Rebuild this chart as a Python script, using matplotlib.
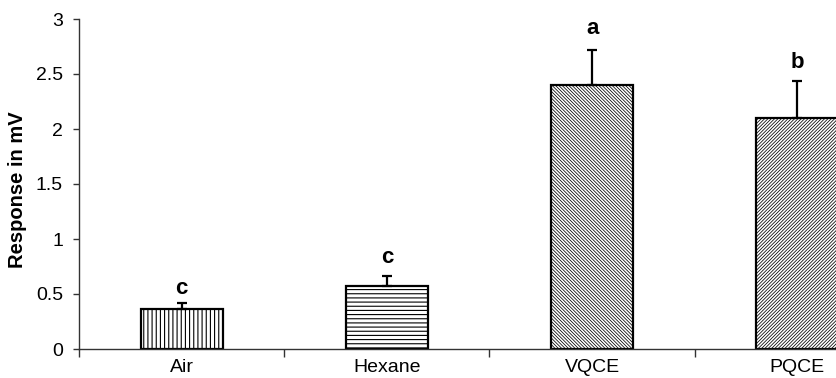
import matplotlib
matplotlib.use("Agg")
import matplotlib.pyplot as plt
import numpy as np

categories = ["Air", "Hexane", "VQCE", "PQCE"]
means = [0.36, 0.575, 2.40, 2.10]
errors = [0.06, 0.085, 0.32, 0.34]
letters = ["c", "c", "a", "b"]
letter_y = [0.50, 0.785, 2.864, 2.557]
hatches = ["||||", "----", "\\" * 10, "/" * 10]
hatch_lws = [0.8, 0.8, 0.55, 0.55]
yticks = [0, 0.5, 1, 1.5, 2, 2.5, 3]
ytick_labels = ["0", "0.5", "1", "1.5", "2", "2.5", "3"]

plt.rcParams["font.family"] = ["Liberation Sans", "DejaVu Sans"]
plt.rcParams["hatch.color"] = "black"

fig = plt.figure(figsize=(8.37, 3.78), dpi=100)
W, H = 837, 378
left, right, top, bottom = 79, 900, 19, 349
ax = fig.add_axes([left / W, (H - bottom) / H, (right - left) / W, (bottom - top) / H])

x = np.arange(len(categories))
for xi, m, e, h, hl in zip(x, means, errors, hatches, hatch_lws):
    with plt.rc_context({"hatch.linewidth": hl}):
        bars = ax.bar(xi, m, width=0.40, color="white", edgecolor="black",
                      linewidth=1.6, hatch=h, zorder=2)
    for b in bars:
        if hasattr(b, "set_hatch_linewidth"):
            b.set_hatch_linewidth(hl)
    ax.errorbar(xi, m, yerr=[[0], [e]], fmt="none", ecolor="black",
                elinewidth=1.6, capsize=3.5, capthick=1.6, zorder=3)

for xi, ly, lt in zip(x, letter_y, letters):
    ax.text(xi, ly, lt, ha="center", va="baseline", fontsize=16,
            fontweight="bold", color="black")

ax.set_xlim(-0.5, 3.5)
ax.set_ylim(0, 3)

ax.set_yticks(yticks)
ax.set_yticklabels(ytick_labels)
ax.tick_params(axis="y", length=4, width=1, color="#333333", labelsize=14,
               pad=7.5, labelcolor="black")

ax.set_xticks([-0.5, 0.5, 1.5, 2.5])
ax.set_xticklabels([])
ax.set_xticks(x, minor=True)
ax.set_xticklabels(categories, minor=True)
ax.tick_params(axis="x", which="major", length=6, width=1, color="#333333",
               direction="out")
ax.tick_params(axis="x", which="minor", length=0, labelsize=14, pad=7,
               labelcolor="black")

for s in ["top", "right"]:
    ax.spines[s].set_visible(False)
for s in ["left", "bottom"]:
    ax.spines[s].set_color("#333333")
    ax.spines[s].set_linewidth(1)

ax.set_ylabel("Response in mV", fontsize=14.5, fontweight="bold")
ax.yaxis.set_label_coords(-0.063, 0.482)

fig.savefig("out.png", dpi=100)
